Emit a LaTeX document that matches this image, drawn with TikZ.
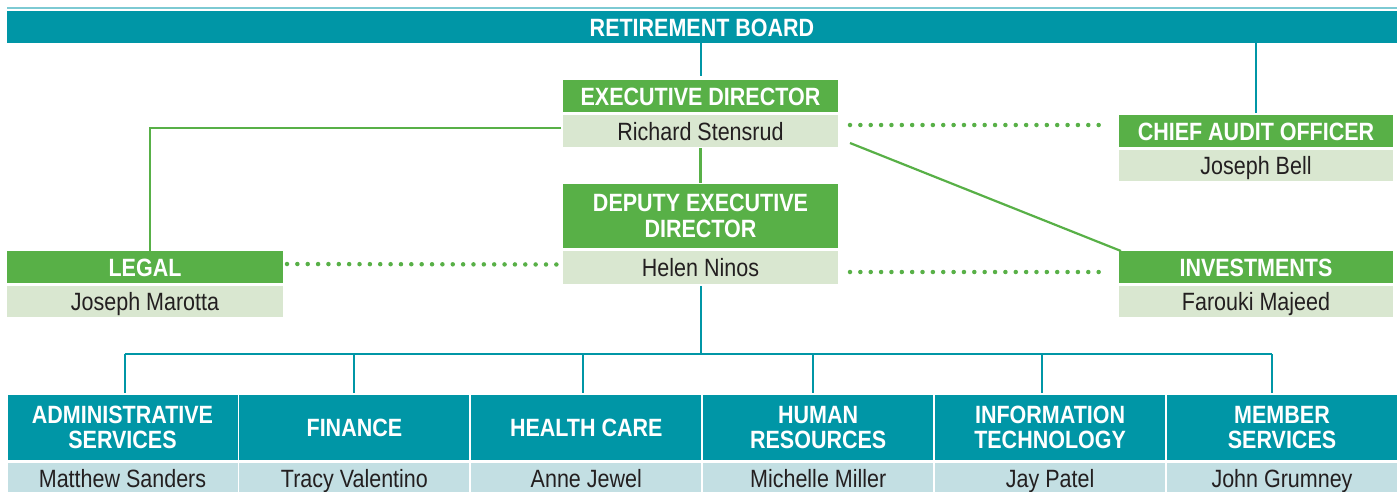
\documentclass[tikz,border=0pt]{standalone}
\usepackage{fontspec}
\setmainfont{Liberation Sans}[FakeStretch=0.86]
\usepackage{tikz}
\usetikzlibrary{calc,positioning}
\definecolor{BoardTeal}{RGB}{0,150,166}
\definecolor{LightTeal}{RGB}{195,223,227}
\definecolor{RuleTeal}{RGB}{125,202,211}
\definecolor{RoleGreen}{RGB}{88,176,71}
\definecolor{LightGreen}{RGB}{217,231,208}
\definecolor{Ink}{RGB}{35,31,32}
\tikzstyle{boardbar}=[fill=BoardTeal, text=white, font=\fontsize{25}{26}\selectfont\bfseries,
                      minimum width=1390pt, minimum height=32pt, text height=18pt, text depth=0pt]
\tikzstyle{rolebox} =[fill=RoleGreen, text=white, font=\fontsize{25}{26.5}\selectfont\bfseries,
                      minimum width=275pt, minimum height=32pt, align=center]
\tikzstyle{onerow}  =[text height=18pt, text depth=0pt]
\tikzstyle{namebox} =[fill=LightGreen, text=Ink, font=\fontsize{25}{26}\selectfont,
                      minimum width=275pt, minimum height=32pt, onerow]
\tikzstyle{deptbox} =[fill=BoardTeal, text=white, font=\fontsize{25}{25.5}\selectfont\bfseries,
                      minimum width=230pt, minimum height=65pt, align=center]
\tikzstyle{staffbox}=[fill=LightTeal, text=Ink, font=\fontsize{25}{26}\selectfont,
                      minimum width=230pt, minimum height=31pt, onerow]
\tikzstyle{tealedge} =[draw=BoardTeal, line width=2pt]
\tikzstyle{greenedge}=[draw=RoleGreen, line width=2.2pt]
\tikzstyle{dotedge}  =[draw=RoleGreen, line width=4.5pt, line cap=round,
                       dash pattern=on 0pt off 10.36pt]
\tikzstyle{topline}  =[draw=RuleTeal, line width=1.5pt]
\begin{document}
\begin{tikzpicture}[x=1pt, y=-1pt, every node/.style={inner sep=0pt, outer sep=0pt}]
\useasboundingbox (0,0) rectangle (1400,491);
\node (board) [boardbar] at (702,27) {RETIREMENT BOARD};
\node (exec) [rolebox, onerow] at (700.5,96) {EXECUTIVE DIRECTOR};
\node (execn) [namebox] at (700.5,131) {Richard Stensrud};
\node (dep) [rolebox, minimum height=64pt] at (700.5,216) {DEPUTY EXECUTIVE\\DIRECTOR};
\node (depn) [namebox, minimum height=33pt] at (700.5,267.5) {Helen Ninos};
\node (cao) [rolebox, onerow, minimum width=274pt] at (1256,131) {CHIEF AUDIT OFFICER};
\node (caon) [namebox, minimum width=274pt, minimum height=31pt] at (1256,165.5) {Joseph Bell};
\node (legal) [rolebox, onerow, minimum width=276pt] at (145,267) {LEGAL};
\node (legaln) [namebox, minimum width=276pt, minimum height=31pt] at (145,301.5) {Joseph Marotta};
\node (inv) [rolebox, onerow, minimum width=274pt] at (1256,267) {INVESTMENTS};
\node (invn) [namebox, minimum width=274pt, minimum height=31pt] at (1256,301.5) {Farouki Majeed};
\foreach \i/\dept/\who in {1/{ADMINISTRATIVE\\SERVICES}/Matthew Sanders,
    2/FINANCE/Tracy Valentino, 3/HEALTH CARE/Anne Jewel,
    4/{HUMAN\\RESOURCES}/Michelle Miller, 5/{INFORMATION\\TECHNOLOGY}/Jay Patel,
    6/{MEMBER\\SERVICES}/John Grumney}{
  \node (d\i) [deptbox] at ({122.5+231.9*(\i-1)},427.5) {\dept};
  \node (s\i) [staffbox] at ({122.5+231.9*(\i-1)},478) {\who};
  \coordinate (t\i) at ([shift={({2pt-2.5pt*(\i-1)},2pt)}]d\i.north);
}
% board and executive lines
\draw [topline] ([yshift=3pt]board.north west) -- ([yshift=3pt]board.north east);
\draw [tealedge] (board.south -| exec.north) -- ([yshift=4pt]exec.north);
\draw [tealedge] (board.south -| cao.north) -- ([yshift=2pt]cao.north);
\draw [greenedge] ([shift={(-2pt,3pt)}]execn.west) -| ([xshift=5pt]legal.north);
\draw [greenedge] ([yshift=-1pt]execn.south) -- ([yshift=1pt]dep.north);
\draw [greenedge] ([shift={(12pt,-12pt)}]execn.east) -- ([xshift=2pt]inv.north west);
\draw [dotedge] ([shift={(12pt,6pt)}]execn.east) -- ([shift={(-10pt,6pt)}]cao.west);
\draw [dotedge] ([shift={(4pt,3pt)}]legal.east) -- ([shift={(-2pt,3pt)}]depn.west);
\draw [dotedge] ([shift={(12pt,-4.5pt)}]depn.east) -- ([shift={(-10pt,-5pt)}]inv.west);
% departments
\coordinate (hub) at ([yshift=-70pt]depn.south);
\draw [tealedge] ([yshift=-2pt]depn.south) -- (hub);
\draw [tealedge] (hub -| t1) -- (hub -| t6);
\foreach \i in {1,...,6}{ \draw [tealedge] (hub -| t\i) -- (t\i); }
\end{tikzpicture}
\end{document}
